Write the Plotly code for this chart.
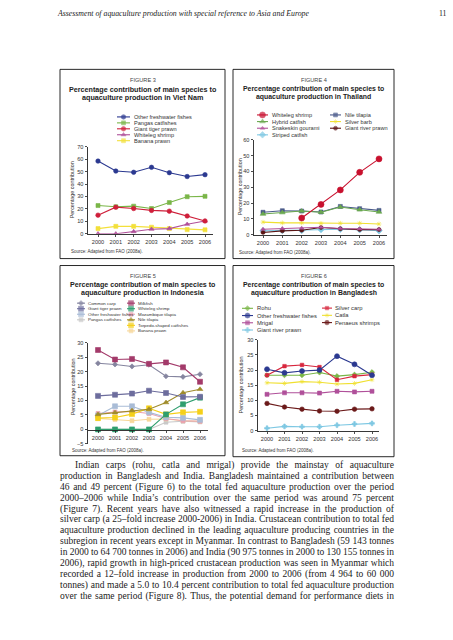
import plotly.graph_objects as go

W, H = 453, 640

years = [2000, 2001, 2002, 2003, 2004, 2005, 2006]

# ---------- Figure 3: Viet Nam ----------
vn_names = ["Other freshwater fishes", "Pangas catfishes", "Giant tiger prawn", "Whiteleg shrimp", "Banana prawn"]
vn_other = [58.4, 50.4, 49.4, 53.4, 49.1, 46.0, 47.5]
vn_pangas = [22.7, 21.7, 22.2, 20.3, 25.1, 29.8, 30.1]
vn_tiger = [15.0, 21.4, 20.3, 18.8, 18.2, 14.3, 10.3]
vn_whiteleg = [0.0, 0.0, 1.8, 3.7, 4.2, 7.7, 10.3]
vn_banana = [4.2, 6.0, 6.0, 5.3, 4.2, 3.4, 3.2]

# ---------- Figure 4: Thailand ----------
th_names = ["Whiteleg shrimp", "Hybrid catfish", "Snakeskin gourami", "Striped catfish",
            "Nile tilapia", "Silver barb", "Giant river prawn"]
th_whiteleg = [None, None, 10.6, 19.2, 28.3, 39.4, 47.9]
th_hybrid = [13.1, 14.0, 15.0, 14.2, 17.5, 15.8, 14.4]
th_snakeskin = [3.5, 4.0, 4.2, 4.8, 4.0, 3.8, 3.5]
th_striped = [2.5, 2.7, 2.7, 3.3, 3.5, 3.2, 2.6]
th_nile = [14.2, 15.2, 15.0, 14.4, 17.9, 16.5, 15.4]
th_silverbarb = [8.0, 7.5, 7.5, 7.2, 7.3, 7.3, 6.8]
th_gianriver = [1.5, 2.5, 2.9, 4.6, 3.8, 3.3, 3.3]

# ---------- Figure 5: Indonesia ----------
id_names = ["Common carp", "Giant tiger prawn", "Other freshwater fishes", "Pangas catfishes",
            "Milkfish", "Whiteleg shrimp", "Mozambique tilapia", "Nile tilapia",
            "Torpedo-shaped catfishes", "Banana prawn"]
id_common = [22.9, 22.5, 21.8, 22.4, 18.4, 18.2, 19.1]
id_tiger = [11.6, 12.0, 12.4, 13.4, 12.6, 11.25, 11.3]
id_otherfw = [4.8, 8.0, 8.0, 5.9, 4.2, 4.0, 3.3]
id_pangas = [0.0, 0.0, 0.0, 0.0, 2.5, 2.8, 2.6]
id_milkfish = [27.5, 24.2, 24.4, 22.7, 23.2, 21.5, 16.5]
id_whiteleg = [0.0, 0.0, 0.0, 0.0, 5.2, 8.7, 11.0]
id_mozambique = [5.5, 6.0, 6.2, 5.5, 3.8, 3.0, 2.8]
id_nile = [5.2, 5.8, 6.5, 7.0, 9.3, 12.7, 13.9]
id_torpedo = [3.9, 4.1, 5.3, 7.3, 5.2, 5.9, 6.1]
id_banana = [3.8, 3.4, 3.0, 3.5, 3.6, 3.0, 2.8]

# ---------- Figure 6: Bangladesh ----------
bd_names = ["Rohu", "Other freshwater fishes", "Mrigal", "Giant river prawn",
            "Silver carp", "Catla", "Penaeus shrimps"]
bd_rohu = [18.3, 18.3, 18.3, 19.2, 18.0, 18.5, 19.3]
bd_otherfw = [20.3, 19.1, 19.7, 20.0, 24.6, 21.9, 18.3]
bd_mrigal = [12.0, 12.5, 12.5, 12.4, 13.0, 12.8, 13.0]
bd_giantriver = [0.8, 1.4, 1.3, 1.3, 1.8, 2.2, 2.4]
bd_silvercarp = [18.3, 21.3, 21.7, 21.0, 16.8, 18.0, 18.5]
bd_catla = [15.8, 15.6, 16.2, 16.0, 15.4, 15.6, 16.8]
bd_penaeus = [9.0, 7.8, 7.1, 6.5, 6.4, 7.1, 7.2]

body_lines = [
    "Indian carps (rohu, catla and mrigal) provide the mainstay of aquaculture",
    "production in Bangladesh and India. Bangladesh maintained a contribution between",
    "46 and 49 percent (Figure 6) to the total fed aquaculture production over the period",
    "2000\u20132006 while India\u2019s contribution over the same period was around 75 percent",
    "(Figure 7). Recent years have also witnessed a rapid increase in the production of",
    "silver carp (a 25\u2013fold increase 2000-2006) in India. Crustacean contribution to total fed",
    "aquaculture production declined in the leading aquaculture producing countries in the",
    "subregion in recent years except in Myanmar. In contrast to Bangladesh (59 143 tonnes",
    "in 2000 to 64 700 tonnes in 2006) and India (90 975 tonnes in 2000 to 130 155 tonnes in",
    "2006), rapid growth in high-priced crustacean production was seen in Myanmar which",
    "recorded a 12\u2013fold increase in production from 2000 to 2006 (from 4 964 to 60 000",
    "tonnes) and made a 5.0 to 10.4 percent contribution to total fed aquaculture production",
    "over the same period (Figure 8). Thus, the potential demand for performance diets in",
]

SANS = "Liberation Sans, Arial, sans-serif"
SERIF = "Liberation Serif, Times New Roman, serif"
TXT = "#333333"

vn_style = [("#2b3990", "circle", 4.5), ("#7ab648", "square", 4), ("#cf1f3a", "circle", 4.5),
            ("#b0509a", "triangle-up", 4.5), ("#f3e03b", "square", 4)]
th_style = [("#c8102e", "circle", 6), ("#6aa84f", "triangle-up", 5), ("#b0509a", "triangle-up", 4),
            ("#7ec8e3", "diamond", 5), ("#4a5a8a", "square", 4), ("#f0e030", "asterisk-open", 4),
            ("#5a1414", "circle", 4)]
id_style = [("#85859f", "diamond", 4), ("#6d6d9d", "square", 5), ("#a9bcd6", "square", 5),
            ("#c9c9c9", "square", 4), ("#a33a6a", "square", 5), ("#2f9e6e", "square", 5),
            ("#e9a0b0", "square", 4), ("#a08c2a", "triangle-up", 5), ("#f5d01a", "square", 5),
            ("#f7d79a", "square", 4)]
bd_style = [("#7ab648", "diamond", 4), ("#2b3990", "circle", 5), ("#b0509a", "square", 4),
            ("#7ec8e3", "cross", 4), ("#d7263d", "square", 3.5), ("#f0e030", "asterisk-open", 4),
            ("#6b1a1a", "circle", 4.5)]

fig = go.Figure()

def add_series(xa, ya, names, series, styles, order=None):
    idx = order if order is not None else range(len(names))
    for i in idx:
        c, s, sz = styles[i]
        fig.add_trace(go.Scatter(
            x=years, y=series[i], mode="lines+markers", name=names[i],
            xaxis=xa, yaxis=ya, showlegend=False, connectgaps=False,
            line=dict(color=c, width=1.1),
            marker=dict(color=c, symbol=s, size=sz, line=dict(width=0.6, color=c))))

add_series("x", "y", vn_names, [vn_other, vn_pangas, vn_tiger, vn_whiteleg, vn_banana], vn_style,
           order=[4, 3, 1, 2, 0])
add_series("x2", "y2", th_names, [th_whiteleg, th_hybrid, th_snakeskin, th_striped, th_nile,
                                  th_silverbarb, th_gianriver], th_style,
           order=[3, 6, 2, 5, 4, 1, 0])
add_series("x3", "y3", id_names, [id_common, id_tiger, id_otherfw, id_pangas, id_milkfish,
                                  id_whiteleg, id_mozambique, id_nile, id_torpedo, id_banana], id_style,
           order=[3, 9, 6, 2, 8, 7, 5, 1, 0, 4])
add_series("x4", "y4", bd_names, [bd_rohu, bd_otherfw, bd_mrigal, bd_giantriver, bd_silvercarp,
                                  bd_catla, bd_penaeus], bd_style,
           order=[3, 6, 2, 5, 0, 4, 1])

def px(x):
    return x / W

def py(y):
    return 1 - y / H

def axis_common(**kw):
    d = dict(showline=True, linecolor="#222", linewidth=0.9, ticks="outside", ticklen=2.5,
             tickwidth=0.8, tickcolor="#222", showgrid=False, zeroline=False,
             tickfont=dict(family=SANS, size=5.6, color=TXT), fixedrange=True)
    d.update(kw)
    return d

def xrange_from(x_axis0, x_axis1, x2000, x2006):
    per = (x2006 - x2000) / 6
    return [2000 - (x2000 - x_axis0) / per, 2006 + (x_axis1 - x2006) / per]

fig.update_layout(
    xaxis=axis_common(domain=[px(88), px(213)], range=xrange_from(88, 213, 98, 205),
                      tickvals=years, anchor="y"),
    yaxis=axis_common(domain=[py(233), py(145)], range=[0, 70], tickvals=list(range(0, 71, 10)),
                      anchor="x"),
    xaxis2=axis_common(domain=[px(254), px(387)], range=xrange_from(254, 387, 263, 379),
                       tickvals=years, anchor="y2"),
    yaxis2=axis_common(domain=[py(234), py(138)], range=[0, 60], tickvals=list(range(0, 61, 10)),
                       anchor="x2"),
    xaxis3=axis_common(domain=[px(88), px(208)], range=xrange_from(88, 208, 98, 200),
                       tickvals=years, anchor="free", position=py(431)),
    yaxis3=axis_common(domain=[py(445), py(343)], range=[-5, 30], tickvals=list(range(-5, 31, 5)),
                       anchor="x3"),
    xaxis4=axis_common(domain=[px(258), px(379)], range=xrange_from(258, 379, 267, 372),
                       tickvals=years, anchor="y4"),
    yaxis4=axis_common(domain=[py(431.7), py(340)], range=[0, 30], tickvals=list(range(0, 31, 5)),
                       anchor="x4"),
    xaxis5=dict(domain=[0, 1], range=[0, W], visible=False, anchor="y5", fixedrange=True),
    yaxis5=dict(domain=[0, 1], range=[H, 0], visible=False, anchor="x5", fixedrange=True),
)

shapes = []
annotations = []

def text(x, y, s, size, xanchor="left", bold=False, family=SANS, color=TXT, italic=False, angle=0):
    if bold:
        s = "<b>" + s + "</b>"
    if italic:
        s = "<i>" + s + "</i>"
    annotations.append(dict(x=x, y=y, xref="x5", yref="y5", text=s, showarrow=False,
                            xanchor=xanchor, yanchor="middle", textangle=angle,
                            borderpad=0, borderwidth=0,
                            font=dict(family=family, size=size, color=color)))

def box(x0, y0, x1, y1):
    shapes.append(dict(type="rect", xref="x5", yref="y5", x0=x0, y0=y0, x1=x1, y1=y1,
                       line=dict(color="#111", width=0.9), layer="below"))

legend_x, legend_y, legend_c, legend_s, legend_sz = [], [], [], [], []

def legend_item(x0, x1, y, name, style, tx, fsize):
    c, s, sz = style
    shapes.append(dict(type="line", xref="x5", yref="y5", x0=x0, x1=x1, y0=y, y1=y,
                       line=dict(color=c, width=1.1)))
    legend_x.append((x0 + x1) / 2)
    legend_y.append(y)
    legend_c.append(c)
    legend_s.append(s)
    legend_sz.append(sz)
    text(tx, y, name, fsize)

# header
text(57, 11, "Assessment of aquaculture production with special reference to Asia and Europe", 7.8,
     family=SERIF, italic=True, color="#222")
text(447, 11, "11", 7.8, xanchor="right", family=SERIF, color="#222")

panels = [
    (60, 67, 225, 258, "FIGURE 3", "Viet Nam", 7.2),
    (233, 67, 394, 258, "FIGURE 4", "Thailand", 6.9),
    (60, 265, 225, 457, "FIGURE 5", "Indonesia", 7.1),
    (233, 265, 394, 458, "FIGURE 6", "Bangladesh", 6.9),
]
for (x0, y0, x1, y1, fg, country, tsz) in panels:
    box(x0, y0, x1, y1)
    cx = (x0 + x1) / 2
    text(cx, y0 + 10.5, fg, 5.6, xanchor="center", color="#444")
    text(cx, y0 + 20, "Percentage contribution of main species to", tsz, xanchor="center", bold=True, color="#222")
    text(cx, y0 + 28, "aquaculture production in " + country, tsz, xanchor="center", bold=True, color="#222")

for (x, y) in [(72, 189), (240, 186), (73, 388), (241, 386)]:
    text(x, y, "Percentage contribution", 5.4, xanchor="center", angle=-90)
for (x, y) in [(71, 251), (239, 252), (72, 452), (242, 452)]:
    text(x, y, "Source: Adapted from FAO (2008a).", 4.5)

for i, n in enumerate(vn_names):
    legend_item(117, 130, 115 + 6 * i, n, vn_style[i], 134, 5.6)

for i, n in enumerate(th_names[:4]):
    legend_item(257, 268, 113 + 6.7 * i, n, th_style[i], 272, 5.6)
for i, n in enumerate(th_names[4:]):
    legend_item(330, 341, 113 + 6.7 * i, n, th_style[4 + i], 345, 5.6)

for i, n in enumerate(id_names[:4]):
    legend_item(77, 85, 303 + 5.6 * i, n, id_style[i], 88, 4.4)
for i, n in enumerate(id_names[4:]):
    legend_item(127, 135, 303 + 5.6 * i, n, id_style[4 + i], 138, 4.4)

for i, n in enumerate(bd_names[:4]):
    legend_item(242, 253, 308.2 + 7.3 * i, n, bd_style[i], 257, 5.8)
for i, n in enumerate(bd_names[4:]):
    legend_item(322, 332, 308 + 7.3 * i, n, bd_style[4 + i], 335, 5.8)

fig.add_trace(go.Scatter(x=legend_x, y=legend_y, mode="markers", xaxis="x5", yaxis="y5",
                         showlegend=False, hoverinfo="skip",
                         marker=dict(color=legend_c, symbol=legend_s, size=legend_sz,
                                     line=dict(width=0.6, color=legend_c))))

# ---- body text, justified using Times-compatible metrics ----
TW = {' ': 250, 'a': 444, 'b': 500, 'c': 444, 'd': 500, 'e': 444, 'f': 333, 'g': 500, 'h': 500,
      'i': 278, 'j': 278, 'k': 500, 'l': 278, 'm': 778, 'n': 500, 'o': 500, 'p': 500, 'q': 500,
      'r': 333, 's': 389, 't': 278, 'u': 500, 'v': 500, 'w': 722, 'x': 500, 'y': 500, 'z': 444,
      'A': 722, 'B': 667, 'C': 667, 'D': 722, 'E': 611, 'F': 556, 'G': 722, 'H': 722, 'I': 333,
      'J': 389, 'K': 722, 'L': 611, 'M': 889, 'N': 722, 'O': 722, 'P': 556, 'Q': 722, 'R': 667,
      'S': 556, 'T': 611, 'U': 722, 'V': 722, 'W': 944, 'X': 722, 'Y': 722, 'Z': 611,
      '(': 333, ')': 333, '.': 250, ',': 250, '\u2013': 500, '-': 333, '\u2019': 333, ':': 278}

def word_w(wd, size):
    return sum(TW.get(ch, 500) for ch in wd) / 1000.0 * size

BODY_SIZE = 9.5
bx, by, bt = [], [], []
for i, line in enumerate(body_lines):
    x0 = 75 if i == 0 else 60
    x1 = 394
    words = line.split(" ")
    widths = [word_w(wd, BODY_SIZE) for wd in words]
    gap = (x1 - x0 - sum(widths)) / (len(words) - 1)
    x = x0
    y = 467 + 11 * i
    for wd, ww in zip(words, widths):
        bx.append(x)
        by.append(y)
        bt.append(wd)
        x += ww + gap

fig.add_trace(go.Scatter(x=bx, y=by, text=bt, mode="text", textposition="middle right",
                         xaxis="x5", yaxis="y5", showlegend=False, hoverinfo="skip",
                         textfont=dict(family=SERIF, size=BODY_SIZE, color="#1a1a1a")))

fig.update_layout(
    width=W, height=H, margin=dict(l=0, r=0, t=0, b=0),
    paper_bgcolor="white", plot_bgcolor="rgba(0,0,0,0)",
    shapes=shapes, annotations=annotations, showlegend=False,
)

fig.write_html("out.html", config={"displayModeBar": False, "staticPlot": True},
               post_script="document.body.style.margin='0';document.body.style.overflow='hidden';")
